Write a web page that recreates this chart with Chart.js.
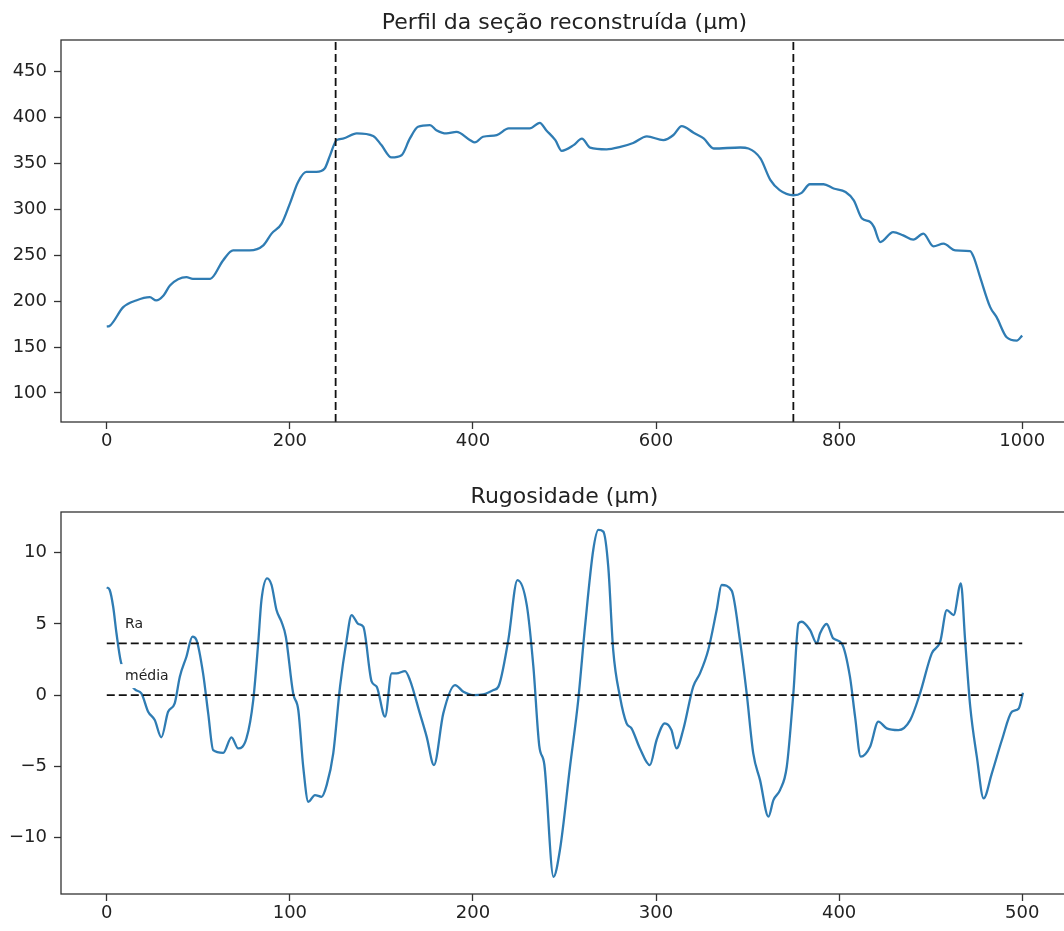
<!DOCTYPE html>
<html>
<head>
<meta charset="utf-8">
<script src="https://cdn.jsdelivr.net/npm/chart.js@4.4.0/dist/chart.umd.min.js"></script>
<style>
html, body { margin: 0; padding: 0; background: #fff; overflow: hidden; }
#wrap { position: relative; width: 1064px; height: 931px; overflow: hidden; }
#perfil { position: absolute; left: 0; top: 0; }
#rugo { position: absolute; left: 0; top: 460px; }
</style>
</head>
<body>
<div id="wrap">
  <canvas id="perfil" width="1100" height="450"></canvas>
  <canvas id="rugo" width="1100" height="471"></canvas>
</div>
<script>
// perfil da seção (top)
const profX = [0, 3, 18, 32, 47, 54, 62, 69, 87, 94, 113, 127, 138, 156, 171, 180, 191, 200, 209, 218,
  229, 238, 244, 251, 258, 273, 291, 300, 311, 322, 331, 340, 353, 360, 371, 382, 397, 402, 411, 426,
  439, 462, 473, 480, 490, 497, 510, 519, 528, 546, 561, 575, 590, 608, 619, 628, 641, 652, 663, 692,
  701, 714, 725, 735, 750, 759, 768, 783, 794, 807, 816, 825, 834, 838, 845, 859, 870, 881, 892, 903,
  914, 927, 943, 947, 954, 965, 972, 983, 994, 1000];
const profY = [172.4, 173, 193.5, 200.8, 204.4, 200.8, 206.2, 217.1, 226.2, 224.4, 224.4, 244.4, 255.3, 255.3, 260.8, 273.6, 284.5, 306.3, 329.9, 340.8,
  340.8, 344.5, 359.1, 375.4, 377, 382.8, 380, 370, 356.6, 359, 377, 390, 391.8, 386.3, 382.8, 384.5, 375.4, 373, 379.1, 381,
  388.2, 388.2, 394.3, 386.3, 375.4, 363.8, 370, 377, 367.2, 365.3, 368, 372.3, 379.5, 375.4, 381, 390.7, 383.5, 377.3, 366.3, 367.4,
  366.3, 355.5, 331.8, 320.9, 315.4, 318, 327.4, 327.4, 322.7, 319, 309.9, 290, 286.3, 280.9, 264.4, 275.3, 271.7, 267, 273.5, 259.7,
  262.6, 255.3, 254.6, 248, 226.2, 193.5, 182.6, 160.7, 157.1, 162.5];
const cutX = [250, 750];
const profTicksX = [0, 200, 400, 600, 800, 1000];
const profTicksY = [100, 150, 200, 250, 300, 350, 400, 450];

// rugosidade (bottom)
const rugX = [0, 1.6, 3.5, 5.3, 7.7, 15.3, 18.9, 22.6, 26.2, 29.8, 33.5, 37.1, 39.9, 43.5, 46.8, 49, 52.6, 55.4, 58.1, 63.6,
  68.1, 71.8, 76.3, 80, 82.7, 84.5, 87.6, 90, 92.7, 95.4, 97.8, 101.8, 104.6, 107.3, 110.1, 113.7, 117.3, 120.1, 123.7, 127.4,
  131, 133.7, 137.4, 140.1, 144.7, 147.4, 152, 155.6, 158.3, 162.9, 165.6, 171, 174.7, 178.7, 183.8, 190.2, 194.8, 200.2, 205.7, 211.2,
  213.9, 219.3, 224.3, 229.4, 233, 236.2, 239, 244, 247.5, 253, 257.5, 261.2, 265.7, 268.5, 271.2, 273.9, 276.6, 280.3, 283.9, 286.6,
  291.2, 296.6, 300.3, 304.8, 308.4, 311.2, 314.8, 320.3, 324, 328.5, 333.1, 335.8, 341.3, 345.8, 349.5, 353.1, 356.8, 361.4, 364.1, 367.7,
  371.4, 375, 377.8, 379.6, 384.1, 387.8, 389.6, 393.2, 396.8, 401.4, 405.9, 408.7, 411.8, 416.9, 421.4, 426, 432.4, 438.8, 444.2, 450.6,
  455.2, 458.8, 462.5, 466.5, 468.8, 471.6, 475.2, 478.9, 483.4, 488.9, 494.4, 498.1, 500.4];
const rugY = [7.57, 7.38, 6.2, 4.34, 2.34, 0.4, 0.12, -1.17, -1.76, -2.97, -1.17, -0.58, 1.29, 2.69, 4.1, 3.86, 1.52, -1.29, -3.87, -4.06,
  -2.97, -3.75, -3.04, -0.35, 3.63, 6.68, 8.2, 7.73, 5.97, 5.15, 4.1, 0.12, -1.05, -5.04, -7.5, -7.03, -7.15, -6.33, -4.1, 0.59,
  3.86, 5.62, 4.99, 4.8, 0.94, 0.59, -1.52, 1.52, 1.52, 1.68, 1.05, -1.29, -2.92, -4.92, -1.29, 0.7, 0.23, 0, 0.05, 0.35,
  0.59, 3.86, 8.08, 6.32, 1.99, -3.55, -4.9, -12.77, -10.89, -5.04, -0.35, 4.8, 10.19, 11.6, 11.48, 9.02, 3.16, -0.12, -1.99, -2.34,
  -3.75, -4.92, -3.16, -1.99, -2.46, -3.75, -2.46, 0.59, 1.52, 3.16, 5.97, 7.73, 7.33, 3.86, 0.12, -4.1, -5.98, -8.55, -7.38, -6.68,
  -5.04, 0.12, 5.04, 5.15, 4.57, 3.63, 4.34, 4.99, 3.98, 3.63, 1.29, -1.52, -4.33, -3.63, -1.87, -2.34, -2.46, -1.76, 0.12, 2.93,
  3.75, 5.97, 5.62, 7.85, 3.86, -0.82, -4.33, -7.26, -5.5, -3.16, -1.17, -0.94, 0.16];
const raValue = 3.63;
const meanValue = 0;
const rugTicksX = [0, 100, 200, 300, 400, 500];
const rugTicksY = [-10, -5, 0, 5, 10];
const noteText = ['Ra', 'média'];
const noteX = [10, 10];
const noteY = [4.7, 1.05];

const FONT = 'DejaVu Sans';
const BLUE = '#2f7cb3';

const pts = (xs, ys) => xs.map((x, i) => ({ x: x, y: ys[i] }));

// box around the axes + title above it
const frame = {
  id: 'frame',
  afterDraw(chart, args, opts) {
    const { ctx, chartArea: a } = chart;
    ctx.save();
    ctx.strokeStyle = '#333';
    ctx.lineWidth = 1.3;
    ctx.strokeRect(a.left, a.top, a.right - a.left, a.bottom - a.top);
    ctx.fillStyle = '#222';
    ctx.font = '22px "' + FONT + '"';
    ctx.textAlign = 'center';
    ctx.textBaseline = 'alphabetic';
    ctx.fillText(opts.text, (a.left + a.right) / 2, a.top - opts.gap);
    ctx.restore();
  }
};

// text labels with a white box behind, like bbox in matplotlib
const notes = {
  id: 'notes',
  afterDatasetsDraw(chart) {
    if (!chart.options.plugins.notes) return;
    const { ctx, scales } = chart;
    ctx.save();
    ctx.font = '14px "' + FONT + '"';
    ctx.textAlign = 'left';
    ctx.textBaseline = 'alphabetic';
    noteText.forEach((t, i) => {
      const px = scales.x.getPixelForValue(noteX[i]);
      const py = scales.y.getPixelForValue(noteY[i]);
      const w = ctx.measureText(t).width;
      ctx.fillStyle = '#fff';
      ctx.fillRect(px - 5, py - 16, w + 10, 24);
      ctx.fillStyle = '#222';
      ctx.fillText(t, px, py);
    });
    ctx.restore();
  }
};

function axis(min, max, ticks, size) {
  return {
    type: 'linear',
    min: min,
    max: max,
    afterBuildTicks: s => { s.ticks = ticks.map(v => ({ value: v })); },
    afterFit: s => {
      if (s.isHorizontal()) s.height = size; else s.width = size;
    },
    grid: { drawOnChartArea: false, tickLength: 7, tickColor: '#333', tickWidth: 1.3 },
    border: { display: false },
    ticks: {
      color: '#222',
      autoSkip: false,
      maxRotation: 0,
      padding: 0,
      font: { family: FONT, size: 18 },
      callback: v => String(v).replace('-', '\u2212')
    }
  };
}

function dashed(data) {
  return {
    data: data,
    borderColor: '#111',
    borderWidth: 1.8,
    borderDash: [8, 4],
    pointRadius: 0,
    tension: 0,
    fill: false
  };
}

function curve(data) {
  return {
    data: data,
    borderColor: BLUE,
    borderWidth: 2.3,
    pointRadius: 0,
    cubicInterpolationMode: 'monotone',
    fill: false
  };
}

const profYMin = 68.4, profYMax = 484.5;
const perfilX = axis(-50, 1050, profTicksX, 28);
perfilX.ticks.padding = 2;
const perfilY = axis(profYMin, profYMax, profTicksY, 61);
perfilY.ticks.padding = 7;

new Chart(document.getElementById('perfil').getContext('2d'), {
  type: 'line',
  data: {
    datasets: cutX.map(c => dashed([{ x: c, y: profYMin }, { x: c, y: profYMax }]))
      .concat([curve(pts(profX, profY))])
  },
  options: {
    responsive: false,
    animation: false,
    events: [],
    layout: { padding: { top: 40, right: 32, left: 0, bottom: 0 } },
    scales: { x: perfilX, y: perfilY },
    plugins: {
      legend: { display: false },
      tooltip: { enabled: false },
      frame: { text: 'Perfil da seção reconstruída (µm)', gap: 11 }
    }
  },
  plugins: [frame]
});

const rugoX = axis(-25, 525, rugTicksX, 37);
rugoX.ticks.padding = 2;
const rugoY = axis(-13.98, 12.86, rugTicksY, 61);
rugoY.ticks.padding = 7;

new Chart(document.getElementById('rugo').getContext('2d'), {
  type: 'line',
  data: {
    datasets: [
      dashed([{ x: 0, y: raValue }, { x: 500, y: raValue }]),
      dashed([{ x: 0, y: meanValue }, { x: 500, y: meanValue }]),
      curve(pts(rugX, rugY))
    ]
  },
  options: {
    responsive: false,
    animation: false,
    events: [],
    layout: { padding: { top: 52, right: 32, left: 0, bottom: 0 } },
    scales: { x: rugoX, y: rugoY },
    plugins: {
      legend: { display: false },
      tooltip: { enabled: false },
      frame: { text: 'Rugosidade (µm)', gap: 9 },
      notes: {}
    }
  },
  plugins: [frame, notes]
});
</script>
</body>
</html>
